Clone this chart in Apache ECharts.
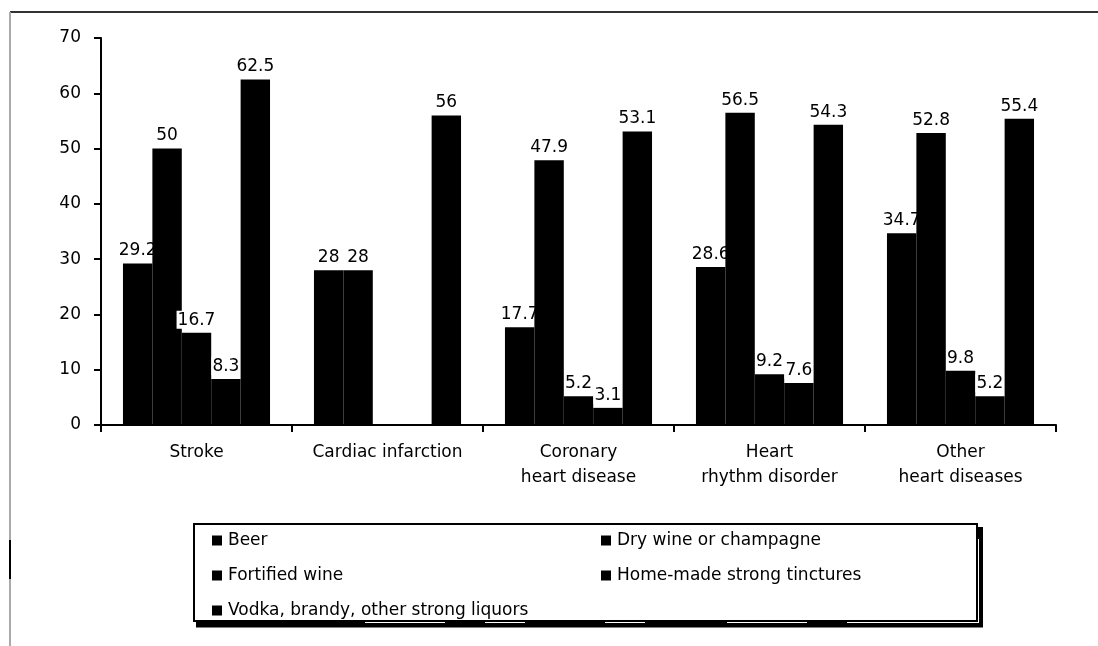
<!DOCTYPE html>
<html>
<head>
<meta charset="utf-8">
<script src="https://cdn.jsdelivr.net/npm/echarts@6/dist/echarts.min.js"></script>
<style>
  html, body { margin: 0; padding: 0; background: #fff; }
  #chart { width: 1098px; height: 646px; }
</style>
</head>
<body>
<div id="chart"></div>
<script>
// Share of drinkers (%) by beverage type, per cardiovascular diagnosis
const categories = ['Stroke', 'Cardiac infarction', 'Coronary\nheart disease', 'Heart\nrhythm disorder', 'Other\nheart diseases'];
const seriesNames = ['Beer', 'Dry wine or champagne', 'Fortified wine', 'Home-made strong tinctures', 'Vodka, brandy, other strong liquors'];
const beer = [29.2, 28, 17.7, 28.6, 34.7];
const dryWine = [50, 28, 47.9, 56.5, 52.8];
const fortifiedWine = [16.7, null, 5.2, 9.2, 9.8];
const homeMade = [8.3, null, 3.1, 7.6, 5.2];
const vodka = [62.5, 56, 53.1, 54.3, 55.4];
const yTicks = [0, 10, 20, 30, 40, 50, 60, 70];

const FONT = '"DejaVu Sans", sans-serif';
const FONT_SIZE = 17;
const values = [beer, dryWine, fortifiedWine, homeMade, vodka];

const chart = echarts.init(document.getElementById('chart'), null, { renderer: 'canvas' });

// Later series sit above earlier ones, so a neighbouring bar may cover part of a label
const series = seriesNames.map((name, i) => ({
  name,
  type: 'bar',
  data: values[i],
  z: 2 + i,
  barGap: '0%',
  barCategoryGap: '23%',
  itemStyle: { color: '#000' },
  label: {
    show: true,
    position: 'top',
    distance: 4,
    color: '#000',
    fontFamily: FONT,
    fontSize: FONT_SIZE,
    backgroundColor: '#fff',
    padding: [1, 1, 0, 1]
  }
}));

// Legend frame with a hard drop shadow on the right and bottom
const frameGraphics = [
  { type: 'rect', z: 0, silent: true, shape: { x: 196, y: 527, width: 787, height: 100.5 }, style: { fill: '#000' } },
  { type: 'rect', z: 1, silent: true, shape: { x: 194, y: 524, width: 783, height: 97 }, style: { fill: '#fff', stroke: '#000', lineWidth: 2 } }
];
// thin light streaks inside the shadow edges
const streaks = [[365, 445], [485, 525], [605, 645], [727, 807], [847, 978]];
streaks.forEach(([a, b]) => frameGraphics.push({
  type: 'line', z: 2, silent: true,
  shape: { x1: a, y1: 622.5, x2: b, y2: 622.5 },
  style: { stroke: '#fff', lineWidth: 1 }
}));
frameGraphics.push({
  type: 'line', z: 2, silent: true,
  shape: { x1: 978.5, y1: 539, x2: 978.5, y2: 623 },
  style: { stroke: '#fff', lineWidth: 1 }
});

chart.setOption({
  animation: false,
  backgroundColor: '#fff',
  textStyle: { fontFamily: FONT },
  grid: { left: 101, right: 42, top: 38, bottom: 221, containLabel: false },
  xAxis: {
    type: 'category',
    data: categories,
    axisLine: { show: true, lineStyle: { color: '#000', width: 2 } },
    axisTick: { show: true, interval: 0, alignWithLabel: false, length: 7, lineStyle: { color: '#000', width: 2 } },
    axisLabel: { interval: 0, color: '#000', fontFamily: FONT, fontSize: FONT_SIZE, margin: 15, lineHeight: 25 }
  },
  yAxis: {
    type: 'value',
    min: yTicks[0],
    max: yTicks[yTicks.length - 1],
    interval: 10,
    splitLine: { show: false },
    axisLine: { show: true, lineStyle: { color: '#000', width: 2 } },
    axisTick: { show: true, inside: false, length: 7, lineStyle: { color: '#000', width: 2 } },
    axisLabel: { color: '#000', fontFamily: FONT, fontSize: FONT_SIZE, margin: 20 }
  },
  legend: {
    data: seriesNames,
    orient: 'horizontal',
    left: 193,
    top: 524,
    width: 770,
    z: 10,
    padding: [4, 0, 6, 19],
    itemGap: 10,
    itemWidth: 10,
    itemHeight: 10,
    icon: 'rect',
    textStyle: { color: '#000', fontFamily: FONT, fontSize: FONT_SIZE, width: 363, lineHeight: 25, padding: [0, 0, 0, 1] }
  },
  graphic: [
    { type: 'line', silent: true, shape: { x1: 10, y1: 12, x2: 1098, y2: 12 }, style: { stroke: '#333', lineWidth: 2 } },
    { type: 'line', silent: true, shape: { x1: 10, y1: 12, x2: 10, y2: 646 }, style: { stroke: '#aaa', lineWidth: 2 } },
    { type: 'line', silent: true, shape: { x1: 10, y1: 540, x2: 10, y2: 579 }, style: { stroke: '#000', lineWidth: 2 } }
  ].concat(frameGraphics),
  series
});
</script>
</body>
</html>
